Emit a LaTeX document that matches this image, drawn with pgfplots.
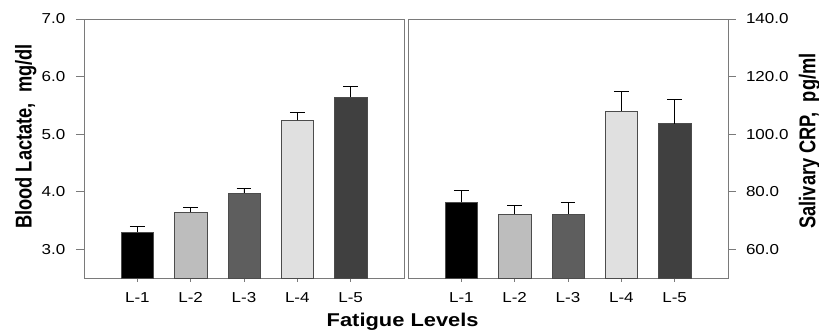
\documentclass[border=0pt]{standalone}
\usepackage{fontspec}
\setmainfont{Liberation Sans}[FakeStretch=1.18]
\newfontfamily\rotfont{Liberation Sans}
\usepackage{pgfplots}
\pgfplotsset{compat=1.18}
\definecolor{cA}{HTML}{000000}
\definecolor{cB}{HTML}{BDBDBD}
\definecolor{cC}{HTML}{5E5E5E}
\definecolor{cD}{HTML}{E0E0E0}
\definecolor{cE}{HTML}{404040}
\definecolor{frame}{HTML}{7A7A7A}
\pgfplotsset{
  common/.style={
    scale only axis, width=240pt, height=194.25pt,
    xmin=0, xmax=6, xtick={1,2,3,4,5},
    xticklabels={L-1,L-2,L-3,L-4,L-5},
    xtick pos=bottom,
    tick align=outside,
    major tick length=6pt,
    xtick style={/pgfplots/major tick length=3pt},
    axis line style={draw=frame, line width=0.6pt},
    every tick/.style={draw=frame, line width=0.6pt},
    tick label style={font=\fontsize{10.8}{12}\selectfont},
    xticklabel style={yshift=-1.2pt},
    /pgf/number format/assume math mode=true,
    /pgf/number format/fixed,
    /pgf/number format/fixed zerofill,
    /pgf/number format/precision=1,
    clip=false,
  },
  bstyle/.style={ybar, bar width=24.2pt, bar shift=0pt, draw=black!70, line width=0.4pt,
    error bars/y dir=plus, error bars/y explicit,
    error bars/error mark=-,
    error bars/error bar style={black, line width=0.7pt},
    error bars/error mark options={rotate=90, black, line width=0.7pt, mark size=5.6pt}},
}
\begin{document}
\begin{tikzpicture}
\useasboundingbox (0pt,0pt) rectangle (614.25pt,249pt);
\begin{axis}[common, at={(63pt,40.5pt)}, anchor=south west,
  ymin=2.5, ymax=7, ytick={3,4,5,6,7}, ytick pos=left,
  yticklabel style={xshift=-4.5pt}]
\addplot[bstyle, fill=cA] coordinates {(1,3.30) +- (0,0.10)};
\addplot[bstyle, fill=cB] coordinates {(2,3.64) +- (0,0.08)};
\addplot[bstyle, fill=cC] coordinates {(3,3.98) +- (0,0.08)};
\addplot[bstyle, fill=cD] coordinates {(4,5.24) +- (0,0.13)};
\addplot[bstyle, fill=cE] coordinates {(5,5.64) +- (0,0.19)};
\end{axis}
\begin{axis}[common, at={(306pt,40.5pt)}, anchor=south west,
  ymin=50, ymax=140, ytick={60,80,100,120,140}, ytick pos=right,
  yticklabel style={xshift=4pt}]
\addplot[bstyle, fill=cA] coordinates {(1,76.3) +- (0,4.0)};
\addplot[bstyle, fill=cB] coordinates {(2,72.3) +- (0,3.0)};
\addplot[bstyle, fill=cC] coordinates {(3,72.3) +- (0,3.9)};
\addplot[bstyle, fill=cD] coordinates {(4,108.1) +- (0,6.6)};
\addplot[bstyle, fill=cE] coordinates {(5,103.6) +- (0,8.4)};
\end{axis}
\node[rotate=90, anchor=base, font=\rotfont\bfseries\fontsize{13.7}{16}\selectfont] at (23.8pt,146.6pt) {\scalebox{1}[1.25]{Blood Lactate,\ \ mg/dl}};
\node[rotate=90, anchor=base, font=\rotfont\bfseries\fontsize{13.7}{16}\selectfont] at (611.5pt,143.3pt) {\scalebox{1}[1.25]{Salivary CRP,\ \ pg/ml}};
\node[anchor=base, font=\bfseries\fontsize{13.9}{16}\selectfont] at (302pt,4pt) {Fatigue Levels};
\end{tikzpicture}
\end{document}
